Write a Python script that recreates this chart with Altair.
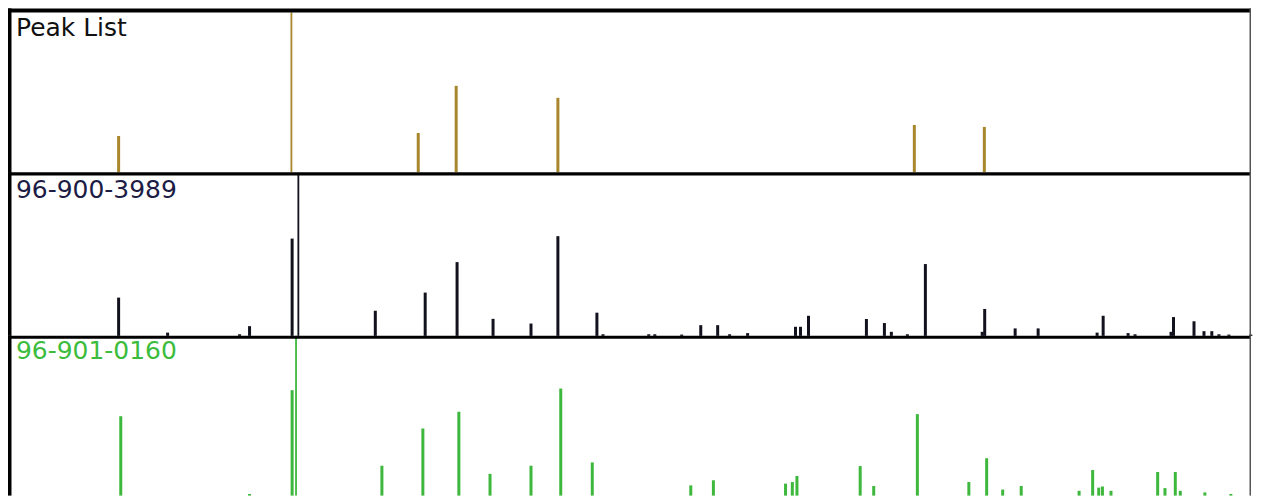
import altair as alt
import pandas as pd

# ---- data (2-theta positions, relative intensities) ----
peak_theta = [16.16, 25.86, 32.98, 35.11, 40.82, 60.83, 64.76]
peak_int = [22.6, 100, 24.5, 54.0, 46.5, 29.5, 28.3]

ref1_theta = [16.16, 18.91, 22.95, 23.51, 25.90, 26.25, 30.57, 33.37, 35.16, 37.18,
              39.31, 40.82, 43.01, 43.35, 45.92, 46.26, 47.77, 48.84, 49.79, 50.46,
              51.47, 54.16, 54.44, 54.89, 58.14, 59.15, 59.54, 60.44, 61.45, 64.64,
              64.78, 66.49, 67.78, 71.09, 71.43, 72.83, 73.22, 75.24, 75.38, 76.53,
              77.09, 77.53, 77.93, 78.49, 79.72]
ref1_int = [23.6, 2.0, 1.0, 6.0, 60.0, 100, 15.5, 26.7, 45.5, 10.5,
            7.6, 61.5, 14.3, 1.0, 1.0, 1.0, 0.8, 6.6, 6.6, 1.0,
            1.7, 5.6, 5.6, 12.4, 10.4, 7.9, 2.5, 1.0, 44.3, 2.5,
            16.6, 4.6, 4.6, 2.0, 12.4, 1.7, 1.0, 2.5, 11.6, 9.0,
            2.9, 2.9, 1.0, 0.8, 0.8]

ref2_theta = [16.28, 23.51, 25.90, 26.12, 30.94, 33.24, 35.26, 37.01, 39.31, 40.98,
              42.75, 48.28, 49.55, 53.60, 53.98, 54.24, 57.79, 58.55, 61.00, 63.89,
              64.89, 65.79, 66.83, 70.08, 70.84, 71.18, 71.39, 71.87, 74.49, 74.90,
              75.48, 75.76, 77.14, 78.60]
ref2_int = [49.7, 1.0, 66.0, 100, 18.7, 42.0, 52.5, 13.6, 18.7, 67.0,
            20.8, 6.4, 9.6, 7.5, 8.5, 12.3, 18.5, 6.0, 51.0, 8.5,
            23.4, 3.8, 6.0, 3.0, 16.0, 5.0, 5.7, 3.0, 14.8, 4.7,
            14.8, 3.0, 2.0, 1.0]

labels = ["Peak List", "96-900-3989", "96-901-0160"]
x_domain = [9.95, 79.73]

W = 1245
FONT = "DejaVu Sans"

_one = pd.DataFrame({"a": [0]})


def frame_rect(x, x2, y, y2, color):
    return alt.Chart(_one).mark_rect(color=color).encode(
        x=alt.value(x), x2=alt.value(x2), y=alt.value(y), y2=alt.value(y2)
    )


def panel(theta, inten, h, ymax, color, label, label_color, label_y, top_h):
    df = pd.DataFrame({"theta": theta, "I": inten})
    x = alt.X("theta:Q", scale=alt.Scale(domain=x_domain, nice=False, zero=False, padding=0), axis=None)
    y = alt.Y("I:Q", scale=alt.Scale(domain=[0, ymax], nice=False, padding=0), axis=None)
    bars = alt.Chart(df).mark_bar(color=color).encode(
        x=x,
        y=y,
        y2=alt.datum(0),
        size=alt.when(alt.datum.I >= 100).then(alt.value(1.8)).otherwise(alt.value(3)),
    )
    txt = alt.Chart(pd.DataFrame({"t": [label]})).mark_text(
        align="left", baseline="alphabetic", font=FONT, fontSize=25, color=label_color
    ).encode(x=alt.value(8), y=alt.value(label_y), text="t:N")
    top = frame_rect(0, W, 0, top_h, "#000000")
    left = frame_rect(0, 3.5, 0, h, "#000000")
    right = frame_rect(W - 1.5, W, 0, h, "#555555")
    return alt.layer(bars, top, left, right, txt).properties(width=W, height=h)


p1 = panel(peak_theta, peak_int, 164, 102.5, "#a8862c", labels[0], "#111111", 28, 4)
p2 = panel(ref1_theta, ref1_int, 164, 101, "#12121e", labels[1], "#1c1c44", 26, 3.5)
p3 = panel(ref2_theta, ref2_int, 160, 100, "#3db83d", labels[2], "#3cbc3c", 23, 3)

chart = (
    alt.vconcat(p1, p2, p3, spacing=0, bounds="flush")
    .properties(padding=0)
    .configure_view(stroke=None)
)

chart.save("out.html", embed_options={"renderer": "svg", "actions": False})
